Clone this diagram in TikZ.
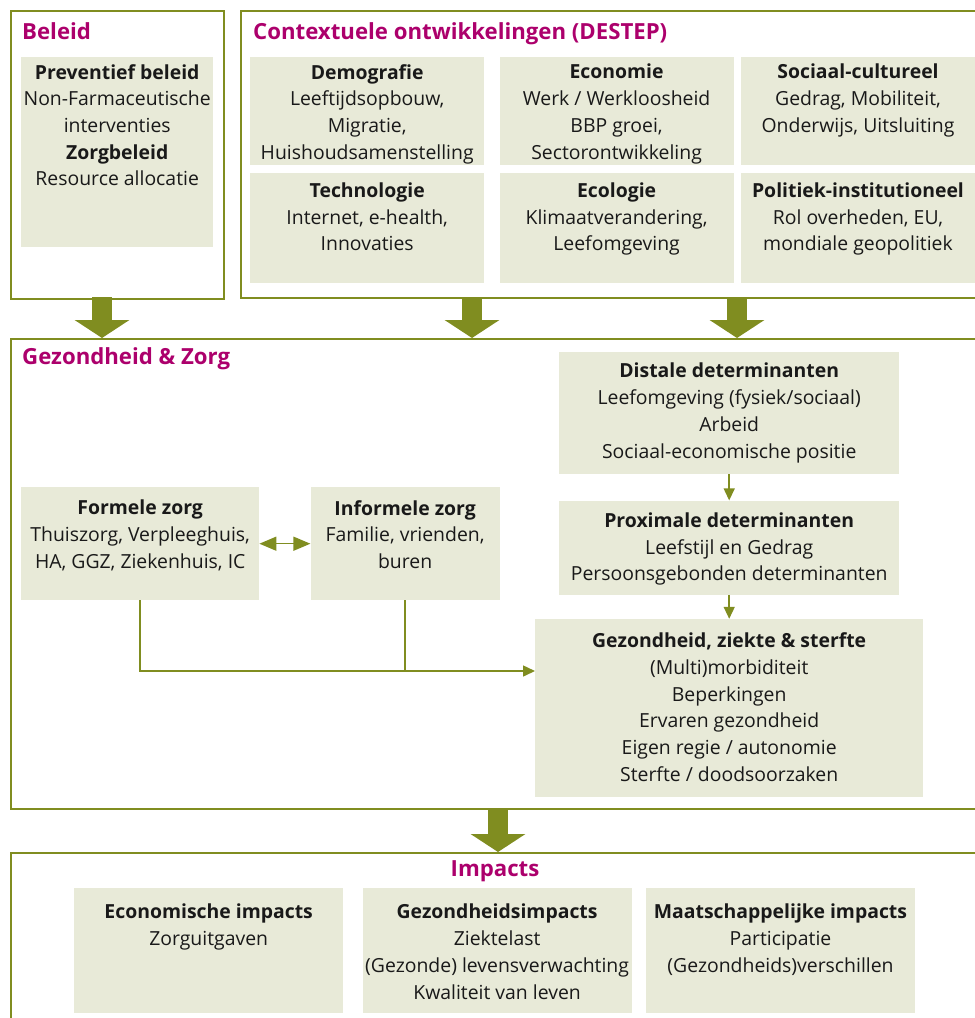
\documentclass[tikz,border=0pt]{standalone}
\usepackage{fontspec}
\setmainfont{Open Sans}
\usetikzlibrary{arrows.meta, positioning}
\definecolor{leaf}{RGB}{128,141,32}
\definecolor{sand}{RGB}{232,234,216}
\definecolor{plum}{RGB}{172,0,108}
\definecolor{ink}{RGB}{25,25,25}

\begin{document}
\begin{tikzpicture}[x=1pt, y=-1pt,
    frame/.style={draw=leaf, line width=2pt, anchor=north west, inner sep=0pt},
    box/.style={fill=sand, anchor=north west, inner sep=0pt},
    cell/.style={box, minimum width=234pt},
    txt/.style={anchor=north, inner sep=0pt, align=center, text=ink, font=\fontsize{19.4}{26.7}\selectfont},
    heading/.style={anchor=north west, inner sep=0pt, text=plum, font=\fontsize{22.2}{26}\selectfont\bfseries},
    bigarrow/.style={draw=leaf, line width=20pt, -{Triangle[width=54pt, length=18pt]}},
    arrow/.style={draw=leaf, line width=1.5pt, -{Triangle[width=11pt, length=12pt]}},
    twoway/.style={draw=leaf, line width=1.5pt, {Triangle[width=14pt, length=17pt]}-{Triangle[width=14pt, length=17pt]}},
    link/.style={draw=leaf, line width=1.5pt}
]
\useasboundingbox (0,0) rectangle (975,1018);

% outer frames
\node[frame, minimum width=213pt, minimum height=288pt] (beleid) at (10,10) {};
\node[frame, minimum width=760pt, minimum height=287pt] (destep) at (240,10) {};
\node[frame, minimum width=985pt, minimum height=470pt] (gz) at (10,338) {};
\node[frame, minimum width=985pt, minimum height=200pt] (impacts) at (10,852) {};

\node[heading] (beleid-h) at (22,22) {Beleid};
\node[heading] (destep-h) at (253,22) {Contextuele ontwikkelingen (DESTEP)};
\node[heading] (gz-h) at (22,347) {Gezondheid \& Zorg};
\node[heading, anchor=north] (impacts-h) at (495,860) {Impacts};

% beleid
\node[box, minimum width=192pt, minimum height=190pt] (policy) at (21,57) {};
\node[txt, below=7pt of policy.north] (policy-t) {\textbf{Preventief beleid}\\Non-Farmaceutische\\interventies\\\textbf{Zorgbeleid}\\Resource allocatie};

% DESTEP
\node[cell, minimum height=108pt] (demo) at (250,57) {};
\node[cell, minimum height=108pt, right=15pt of demo] (eco) {};
\node[cell, minimum height=108pt, right=7pt of eco] (soc) {};
\node[cell, minimum height=110pt, below=7pt of demo] (tech) {};
\node[cell, minimum height=110pt, below=7pt of eco] (ecol) {};
\node[cell, minimum height=110pt, below=7pt of soc] (pol) {};

\node[txt, below=7pt of demo.north] (demo-t) {\textbf{Demografie}\\Leeftijdsopbouw,\\Migratie,\\Huishoudsamenstelling};
\node[txt, below=7pt of eco.north] (eco-t) {\textbf{Economie}\\Werk / Werkloosheid\\BBP groei,\\Sectorontwikkeling};
\node[txt, below=7pt of soc.north] (soc-t) {\textbf{Sociaal-cultureel}\\Gedrag, Mobiliteit,\\Onderwijs, Uitsluiting};
\node[txt, below=10pt of tech.north] (tech-t) {\textbf{Technologie}\\Internet, e-health,\\Innovaties};
\node[txt, below=10pt of ecol.north] (ecol-t) {\textbf{Ecologie}\\Klimaatverandering,\\Leefomgeving};
\node[txt, below=10pt of pol.north] (pol-t) {\textbf{Politiek-institutioneel}\\Rol overheden, EU,\\mondiale geopolitiek};

% gezondheid & zorg
\node[box, minimum width=340pt, minimum height=122pt] (distal) at (559,352) {};
\node[box, minimum width=340pt, minimum height=94pt, below=26pt of distal] (proximal) {};
\node[box, minimum width=388pt, minimum height=178pt, below=24pt of proximal] (health) {};
\node[box, minimum width=238pt, minimum height=113pt] (formal) at (21,487) {};
\node[box, minimum width=189pt, minimum height=113pt, right=51pt of formal] (informal) {};

\node[txt, below=11pt of distal.north] (distal-t) {\textbf{Distale determinanten}\\Leefomgeving (fysiek/sociaal)\\Arbeid\\Sociaal-economische positie};
\node[txt, below=12pt of proximal.north] (proximal-t) {\textbf{Proximale determinanten}\\Leefstijl en Gedrag\\Persoonsgebonden determinanten};
\node[txt, below=14pt of health.north] (health-t) {\textbf{Gezondheid, ziekte \& sterfte}\\(Multi)morbiditeit\\Beperkingen\\Ervaren gezondheid\\Eigen regie / autonomie\\Sterfte / doodsoorzaken};
\node[txt, below=13pt of formal.north] (formal-t) {\textbf{Formele zorg}\\Thuiszorg, Verpleeghuis,\\HA, GGZ, Ziekenhuis, IC};
\node[txt, below=13pt of informal.north] (informal-t) {\textbf{Informele zorg}\\Familie, vrienden,\\buren};

% impacts
\node[box, minimum width=269pt, minimum height=125pt] (econ) at (74,888) {};
\node[box, minimum width=269pt, minimum height=125pt, right=19pt of econ] (hlth) {};
\node[box, minimum width=269pt, minimum height=125pt, right=14pt of hlth] (socimp) {};

\node[txt, below=16pt of econ.north] (econ-t) {\textbf{Economische impacts}\\Zorguitgaven};
\node[txt, below=16pt of hlth.north] (hlth-t) {\textbf{Gezondheidsimpacts}\\Ziektelast\\(Gezonde) levensverwachting\\Kwaliteit van leven};
\node[txt, below=16pt of socimp.north] (socimp-t) {\textbf{Maatschappelijke impacts}\\Participatie\\(Gezondheids)verschillen};

% big arrows
\coordinate (drop1) at (102,297);
\coordinate (drop2) at (472,297);
\coordinate (drop3) at (737,297);
\coordinate (drop4) at (498,808);
\draw[bigarrow] (drop1) -- (drop1 |- gz.north);
\draw[bigarrow] (drop2) -- (drop2 |- gz.north);
\draw[bigarrow] (drop3) -- (drop3 |- gz.north);
\draw[bigarrow] (drop4) -- (drop4 |- impacts.north);

% small arrows
\draw[arrow] (distal) -- (proximal);
\draw[arrow] (proximal) -- (health);
\draw[twoway] (formal) -- (informal);
\coordinate (health-in) at ([yshift=37pt]health.west);
\draw[arrow] (formal.south) |- (health-in);
\draw[link] (informal.south) -- (informal.south |- health-in);
\end{tikzpicture}
\end{document}
